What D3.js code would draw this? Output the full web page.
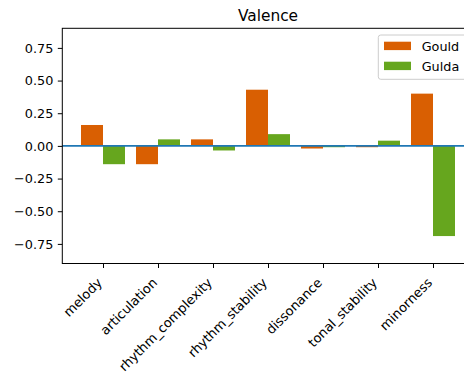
<!DOCTYPE html>
<html>
<head>
<meta charset="utf-8">
<script src="https://cdn.jsdelivr.net/npm/d3@7"></script>
<style>
  html, body { margin: 0; padding: 0; background: #fff; }
  svg { display: block; font-family: "DejaVu Sans", sans-serif; }
</style>
</head>
<body>
<svg id="chart" width="464" height="375"></svg>
<script>
// Valence feature weights per performer
const features = ["melody", "articulation", "rhythm_complexity", "rhythm_stability",
                  "dissonance", "tonal_stability", "minorness"];
const gould = [0.16, -0.14, 0.05, 0.43, -0.02, -0.01, 0.40];
const gulda = [-0.14, 0.05, -0.035, 0.09, -0.01, 0.04, -0.69];
const yTicks = [-0.75, -0.5, -0.25, 0, 0.25, 0.5, 0.75];
const seriesNames = ["Gould", "Gulda"];
const seriesColors = ["#d95f02", "#66a61e"];

const svg = d3.select("#chart");
const plotLeft = 62.3, plotRight = 473.7, plotTop = 28.3, plotBottom = 263.5;
const fontSize = 12.8;

const x = d3.scaleLinear().domain([-0.74, features.length - 1 + 0.74]).range([plotLeft, plotRight]);
const y = d3.scaleLinear().domain([-0.9, 0.9]).range([plotBottom, plotTop]);
const barW = 0.4;

const plot = svg.append("g");

// bars
const series = [gould, gulda];
series.forEach((vals, s) => {
  const offset = s === 0 ? -barW / 2 : barW / 2;
  plot.selectAll(null)
    .data(vals)
    .enter().append("rect")
    .attr("x", (d, i) => x(i + offset - barW / 2))
    .attr("width", x(barW) - x(0))
    .attr("y", d => y(Math.max(0, d)))
    .attr("height", d => Math.abs(y(d) - y(0)))
    .attr("fill", seriesColors[s]);
});

// zero reference line
plot.append("line")
  .attr("x1", plotLeft).attr("x2", plotRight)
  .attr("y1", y(0)).attr("y2", y(0))
  .attr("stroke", "#1f77b4").attr("stroke-width", 1.9);

// y axis
const yAxis = d3.axisLeft(y).tickValues(yTicks)
  .tickFormat(d => (d < 0 ? "\u2212" : "") + Math.abs(d).toFixed(2))
  .tickSize(4.5).tickPadding(4.5);
const gy = svg.append("g").attr("transform", `translate(${plotLeft},0)`).call(yAxis);
gy.select(".domain").remove();
gy.selectAll("line").attr("stroke", "#000").attr("stroke-width", 1);
gy.selectAll("text").attr("font-size", fontSize).attr("fill", "#000")
  .attr("font-family", "DejaVu Sans");

// x axis with rotated category labels
const xAxis = d3.axisBottom(x).tickValues(d3.range(features.length))
  .tickFormat(i => features[i]).tickSize(4.5).tickPadding(0);
const gx = svg.append("g").attr("transform", `translate(0,${plotBottom})`).call(xAxis);
gx.select(".domain").remove();
gx.selectAll("line").attr("stroke", "#000").attr("stroke-width", 1);
gx.selectAll("text")
  .attr("font-size", 13).attr("fill", "#000").attr("font-family", "DejaVu Sans")
  .attr("text-anchor", "end")
  .attr("dy", null)
  .attr("y", 0)
  .attr("transform", "translate(-0.5,20) rotate(-45)");

// frame
svg.append("rect")
  .attr("x", plotLeft).attr("y", plotTop)
  .attr("width", plotRight - plotLeft).attr("height", plotBottom - plotTop)
  .attr("fill", "none").attr("stroke", "#000").attr("stroke-width", 1);

// title
svg.append("text")
  .attr("x", (plotLeft + plotRight) / 2).attr("y", 21)
  .attr("text-anchor", "middle")
  .attr("font-size", 15.4).attr("fill", "#000")
  .text("Valence");

// legend
const lg = svg.append("g").attr("transform", "translate(378.3,35)");
lg.append("rect")
  .attr("x", 0).attr("y", 0).attr("width", 89).attr("height", 44.3)
  .attr("rx", 2.5).attr("fill", "#fff").attr("fill-opacity", 0.8)
  .attr("stroke", "#cccccc").attr("stroke-width", 1);
seriesNames.forEach((name, s) => {
  const row = lg.append("g").attr("transform", `translate(0,${s * 20})`);
  row.append("rect")
    .attr("x", 5.7).attr("y", 6.7).attr("width", 27).attr("height", 8.4)
    .attr("fill", seriesColors[s]);
  row.append("text")
    .attr("x", 43.4).attr("y", 15.5)
    .attr("font-size", fontSize).attr("fill", "#000")
    .text(name);
});
</script>
</body>
</html>
